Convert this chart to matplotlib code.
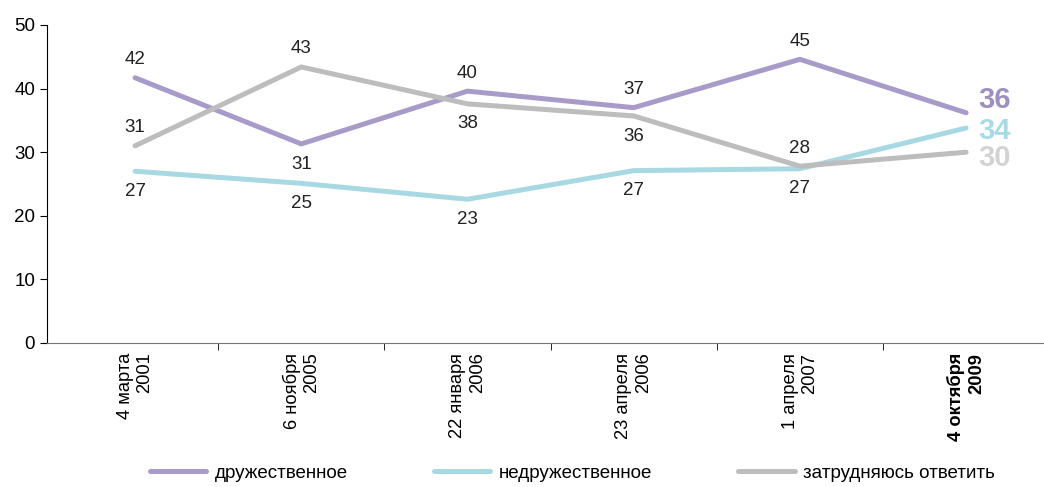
import matplotlib
matplotlib.use("Agg")
import matplotlib.pyplot as plt

plt.rcParams['font.family'] = ['Liberation Sans', 'DejaVu Sans']

dates = ["4 марта\n2001", "6 ноября\n2005", "22 января\n2006",
         "23 апреля\n2006", "1 апреля\n2007", "4 октября\n2009"]
friendly = [41.7, 31.3, 39.6, 37.0, 44.6, 36.2]
unfriendly = [27.0, 25.1, 22.6, 27.1, 27.4, 33.8]
hard = [31.0, 43.4, 37.6, 35.7, 27.8, 30.0]
names = ["дружественное", "недружественное", "затрудняюсь ответить"]

# label above (+1) or below (-1) each point, last point gets a big label instead
friendly_pos = [1, -1, 1, 1, 1]
unfriendly_pos = [-1, -1, -1, -1, -1]
hard_pos = [1, 1, -1, -1, 1]
end_shift = [11, 0, -2]

colors = ["#a99bc9", "#a8d9e3", "#bdbdbd"]
end_colors = ["#9d8fc0", "#a6dbe6", "#d3d3d3"]

fig = plt.figure(figsize=(10.44, 4.87), dpi=100)
ax = fig.add_axes([0.045, 0.2957, 0.96, 0.653])

x = list(range(len(dates)))
series = [friendly, unfriendly, hard]
positions = [friendly_pos, unfriendly_pos, hard_pos]
for vals, pos, c, ec, sh, name in zip(series, positions, colors, end_colors, end_shift, names):
    ax.plot(x, vals, color=c, lw=3.6, solid_capstyle="round", label=name)
    for i in range(len(vals) - 1):
        off = 13 if pos[i] > 0 else -14.5
        ax.annotate(str(round(vals[i])), (x[i], vals[i]), xytext=(0, off),
                    textcoords="offset points", ha="center", va="center",
                    fontsize=13.5, color="#222222")
    ax.annotate(str(round(vals[-1])), (x[-1], vals[-1]), xytext=(8.5, sh),
                textcoords="offset points", ha="left", va="center_baseline",
                fontsize=21, fontweight="bold", color=ec)

ax.set_xlim(-0.53, 5.5)
ax.set_ylim(0, 50)
ax.set_yticks(range(0, 51, 10))
ax.tick_params(axis="y", labelsize=13.5, length=5, direction="out")
ax.set_xticks(x)
ax.set_xticklabels(dates, rotation=90, fontsize=13.2,
                   ha="center", va="top", multialignment="right")
ax.get_xticklabels()[-1].set_fontweight("bold")
ax.set_xticks([i + 0.5 for i in range(len(dates) - 1)], minor=True)
ax.tick_params(axis="x", which="major", length=0, pad=7)
ax.tick_params(axis="x", which="minor", length=5, direction="out")

for s in ["top", "right"]:
    ax.spines[s].set_visible(False)
ax.spines["bottom"].set_color("#777777")

fig.legend(loc="center left", bbox_to_anchor=(150 / 1044, 1 - 473 / 487), ncol=3,
           frameon=False, fontsize=13.5, handlelength=3.0, columnspacing=4.6,
           handletextpad=0.45, borderpad=0, borderaxespad=0)

fig.savefig("out.png", dpi=100)
